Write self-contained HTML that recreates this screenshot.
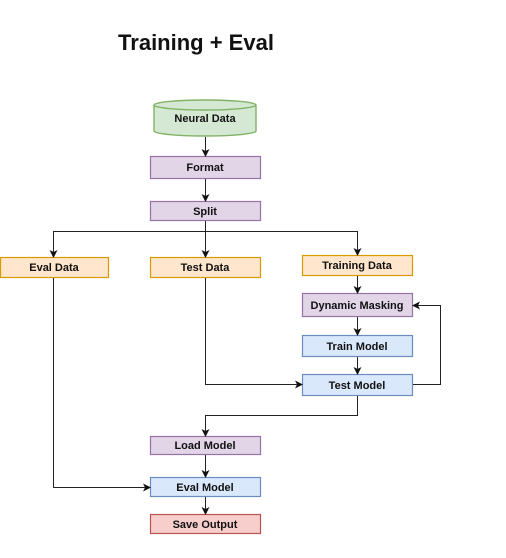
<!DOCTYPE html>
<html><head><style>
html,body{margin:0;padding:0;background:#fff;width:506px;height:558px;overflow:hidden}
svg text{font-family:"Liberation Sans",sans-serif;font-weight:bold;font-size:11px;fill:#111}
</style></head><body>
<svg width="506" height="558" viewBox="0 0 506 558" xmlns="http://www.w3.org/2000/svg">
<defs><marker id="a" markerWidth="8" markerHeight="8" refX="7" refY="4" orient="auto" markerUnits="userSpaceOnUse"><path d="M0,0 L8,4 L0,8 L2,4 Z" fill="#111"/></marker></defs>
<text x="196" y="50" text-anchor="middle" style="font-size:22px">Training + Eval</text>
<!-- cylinder -->
<path d="M154,105 L154,131 A51,5 0 0 0 256,131 L256,105" fill="#d5e8d4" stroke="#82b366" stroke-width="1.4"/>
<ellipse cx="205" cy="105" rx="51" ry="5" fill="#d5e8d4" stroke="#82b366" stroke-width="1.4"/>
<text x="205" y="122" text-anchor="middle">Neural Data</text>
<g stroke-width="1.2">
<rect x="150.5" y="156.5" width="110" height="22" fill="#e1d5e7" stroke="#9673a6"/>
<rect x="150.5" y="201.5" width="110" height="19" fill="#e1d5e7" stroke="#9673a6"/>
<rect x="0.5" y="257.5" width="108" height="20" fill="#ffe6cc" stroke="#d79b00"/>
<rect x="150.5" y="257.5" width="110" height="20" fill="#ffe6cc" stroke="#d79b00"/>
<rect x="302.5" y="255.5" width="110" height="20" fill="#ffe6cc" stroke="#d79b00"/>
<rect x="302.5" y="293.5" width="110" height="23" fill="#e1d5e7" stroke="#9673a6"/>
<rect x="302.5" y="335.5" width="110" height="21" fill="#dae8fc" stroke="#6c8ebf"/>
<rect x="302.5" y="374.5" width="110" height="21" fill="#dae8fc" stroke="#6c8ebf"/>
<rect x="150.5" y="436.5" width="110" height="18" fill="#e1d5e7" stroke="#9673a6"/>
<rect x="150.5" y="477.5" width="110" height="19" fill="#dae8fc" stroke="#6c8ebf"/>
<rect x="150.5" y="514.5" width="110" height="19" fill="#f8cecc" stroke="#b85450"/>
</g>
<text x="205" y="171" text-anchor="middle">Format</text>
<text x="205" y="215" text-anchor="middle">Split</text>
<text x="54" y="271" text-anchor="middle">Eval Data</text>
<text x="205" y="271" text-anchor="middle">Test Data</text>
<text x="357" y="269" text-anchor="middle">Training Data</text>
<text x="357" y="309" text-anchor="middle">Dynamic Masking</text>
<text x="357" y="350" text-anchor="middle">Train Model</text>
<text x="357" y="389" text-anchor="middle">Test Model</text>
<text x="205" y="449" text-anchor="middle">Load Model</text>
<text x="205" y="491" text-anchor="middle">Eval Model</text>
<text x="205" y="528" text-anchor="middle">Save Output</text>
<g fill="none" stroke="#222" stroke-width="1" marker-end="url(#a)">
<path d="M205.5,137 V156"/>
<path d="M205.5,179 V201"/>
<path d="M205.5,221 V257"/>
<path d="M205.5,231.5 H53.5 V257"/>
<path d="M205.5,231.5 H357.5 V255"/>
<path d="M357.5,276 V293"/>
<path d="M357.5,317 V335"/>
<path d="M357.5,357 V374"/>
<path d="M205.5,278 V384.5 H302"/>
<path d="M413,384.5 H440.5 V305.5 H413"/>
<path d="M357.5,396 V415.5 H205.5 V436"/>
<path d="M205.5,455 V477"/>
<path d="M205.5,497 V514"/>
<path d="M53.5,278 V487.5 H150"/>
</g>
</svg>
</body></html>
